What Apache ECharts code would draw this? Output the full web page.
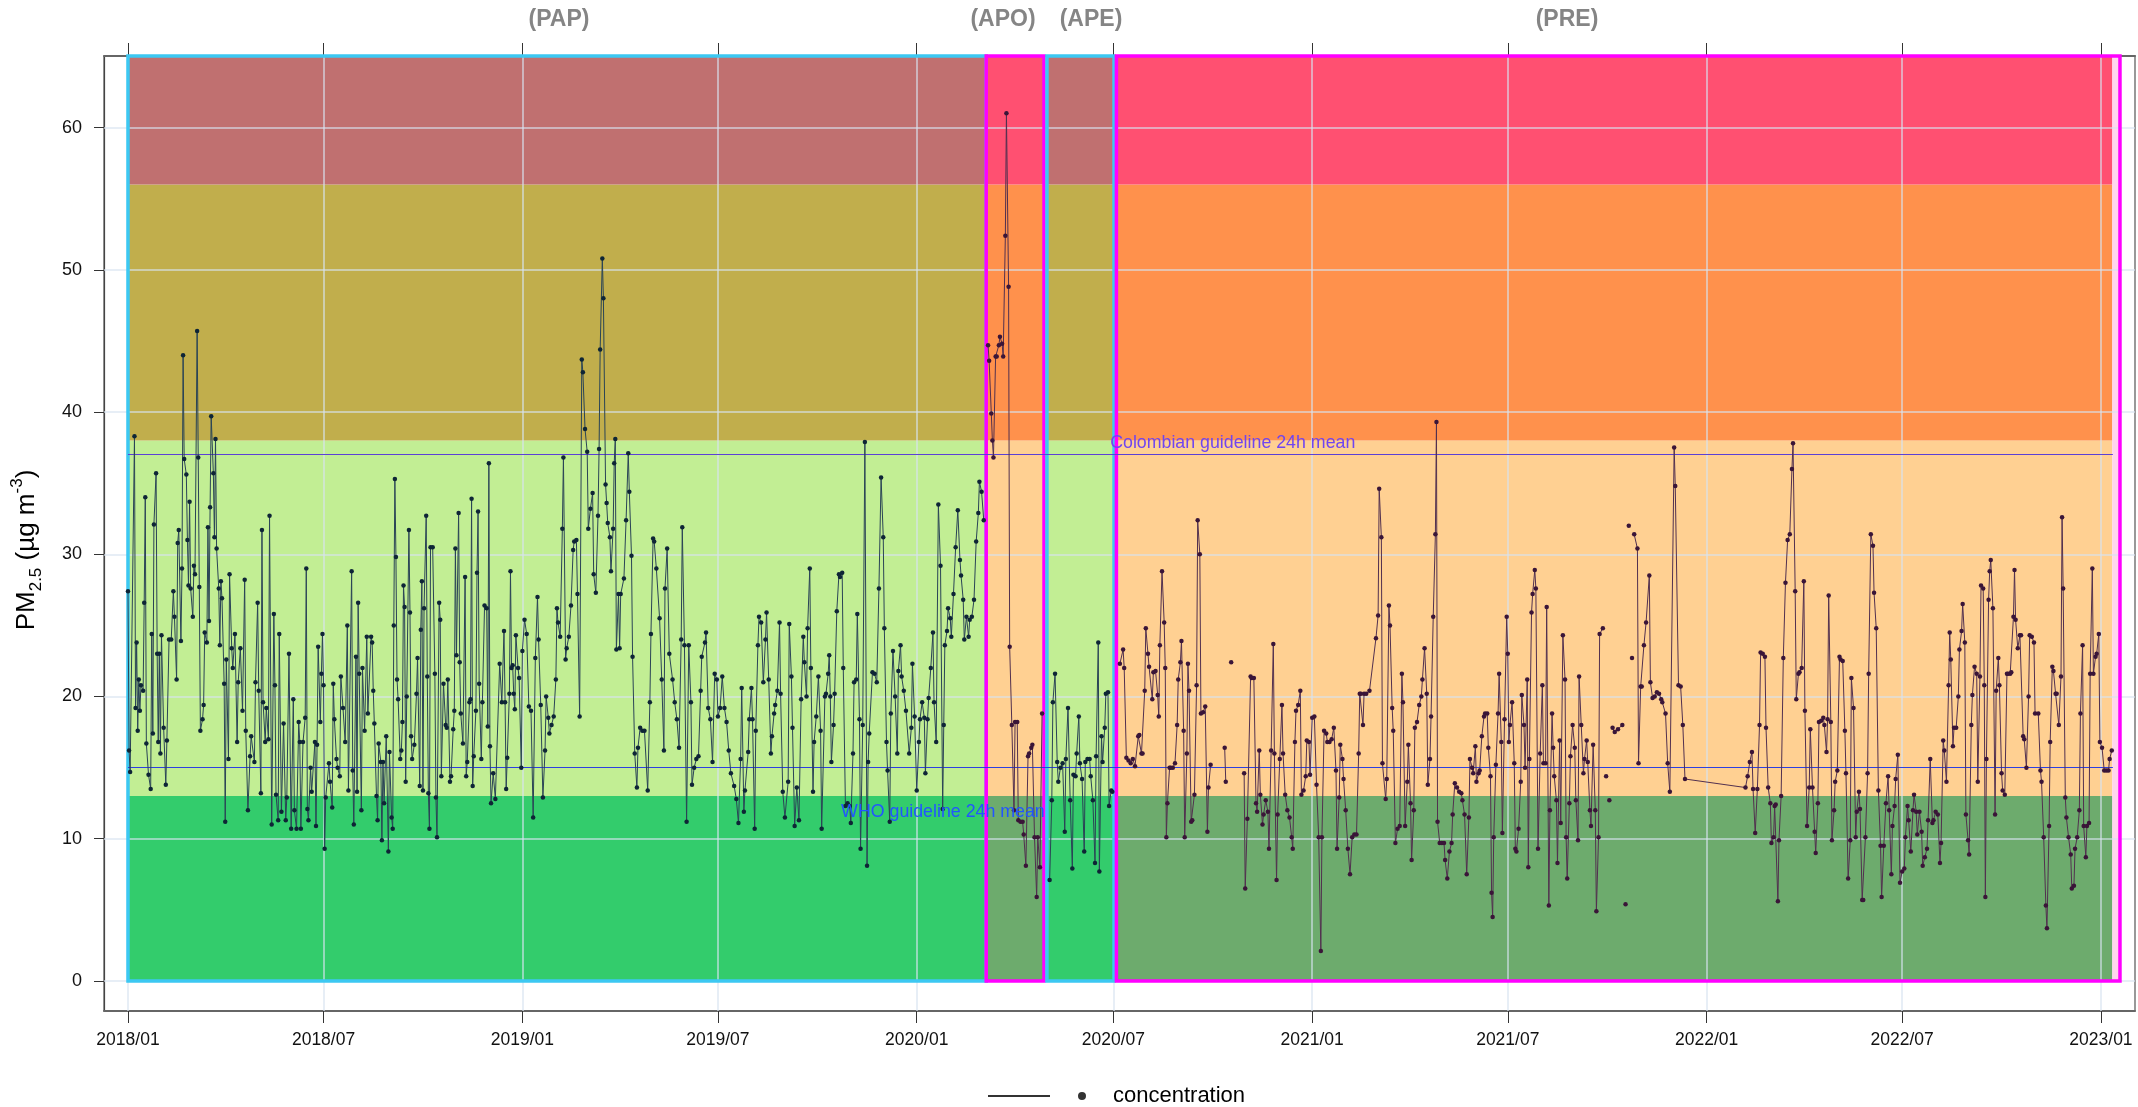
<!DOCTYPE html>
<html><head><meta charset="utf-8">
<script src="https://cdn.jsdelivr.net/npm/echarts@6/dist/echarts.min.js"></script>
<style>html,body{margin:0;padding:0;background:#fff}#c{width:2138px;height:1107px}</style>
</head><body><div id="c"></div>
<script>
// ---- data: [day offset from 2018-01-01, PM2.5 µg/m3]; null = gap ----
const papPoints = [[0,27.4],[1,16.2],[2,14.7],[6,38.3],[7,19.2],[8,23.8],[9,17.6],[10,21.2],[11,19.0],[12,20.8],[14,20.4],[15,26.6],[16,34.0],[17,16.7],[19,14.5],[21,13.5],[22,24.4],[23,17.4],[24,32.1],[26,35.7],[27,23.0],[28,16.8],[29,23.0],[30,16.0],[31,24.3],[33,17.8],[35,13.8],[36,16.9],[38,24.0],[40,24.0],[42,27.4],[43,25.6],[45,21.2],[46,30.8],[47,31.7],[49,23.9],[50,29.0],[51,44.0],[52,36.7],[54,35.6],[55,31.0],[56,27.8],[57,33.7],[58,27.6],[60,25.6],[61,29.2],[62,28.6],[64,45.7],[65,36.8],[66,27.7],[67,17.6],[69,18.4],[70,19.4],[71,24.5],[73,23.8],[74,31.9],[75,25.3],[76,33.3],[77,39.7],[79,35.7],[80,31.2],[81,38.1],[82,30.4],[84,27.6],[85,23.6],[86,28.1],[87,26.9],[89,20.9],[90,11.2],[91,22.6],[93,15.6],[94,28.6],[96,23.4],[97,22.0],[99,24.4],[101,16.8],[102,21.0],[104,23.4],[106,19.0],[108,28.2],[109,17.6],[111,12.0],[113,15.8],[114,17.2],[117,15.4],[118,21.0],[120,26.6],[121,20.4],[123,13.2],[124,31.7],[125,19.6],[127,16.8],[128,19.2],[130,17.0],[131,32.7],[133,11.0],[135,25.8],[136,20.8],[137,13.1],[139,11.3],[140,24.4],[142,11.9],[144,18.1],[146,11.3],[147,12.9],[149,23.0],[151,10.7],[153,19.8],[154,12.0],[156,10.7],[158,18.2],[159,16.8],[160,10.7],[162,16.8],[164,18.5],[165,29.0],[166,12.1],[167,11.3],[169,15.0],[170,13.3],[173,16.8],[174,10.9],[175,16.6],[176,23.5],[178,18.2],[179,21.6],[180,24.4],[181,20.8],[182,9.3],[183,12.9],[186,15.3],[187,14.0],[189,12.2],[190,20.9],[191,18.4],[193,15.6],[194,15.0],[196,14.4],[197,21.4],[199,19.2],[201,16.8],[203,25.0],[204,13.4],[207,28.8],[208,14.8],[209,11.0],[211,22.8],[212,13.3],[213,26.6],[214,21.6],[216,12.0],[217,22.0],[219,17.6],[221,24.2],[222,18.8],
[225,24.2],[226,23.8],[227,20.4],[228,18.1],[230,13.0],[231,11.3],[232,16.7],[234,15.4],[235,9.9],[236,15.4],[237,12.5],[239,17.2],[241,9.1],[242,16.1],[244,11.5],[245,10.7],[246,25.0],[247,35.3],[248,29.8],[249,21.2],[250,19.8],[252,15.6],[253,16.2],[254,18.2],[255,27.8],[256,26.3],[257,14.0],[258,20.0],[260,31.7],[261,25.9],[262,17.2],[263,15.6],[265,16.6],[267,20.2],[268,22.7],[270,13.7],[271,24.7],[272,28.1],[273,13.4],[274,26.2],[276,32.7],[277,21.4],[278,13.2],[279,10.7],[280,30.5],[282,30.5],[284,21.6],[285,12.9],[286,10.1],[288,26.6],[289,25.4],[290,14.4],[292,20.9],[294,18.0],[295,17.8],[296,21.2],[298,14.0],[299,14.4],[301,17.7],[302,19.0],[303,30.4],[304,22.9],[306,32.9],[307,22.4],[308,18.8],[310,16.7],[312,28.4],[313,14.4],[314,15.4],[316,19.6],[317,19.8],[318,33.9],[319,13.7],[320,15.8],[322,19.0],[323,28.7],[324,33.0],[325,20.9],[327,15.6],[328,19.6],[330,26.4],[332,26.2],[333,17.9],[334,36.4],[335,16.5],[336,12.5],[338,14.6],[340,12.8],[344,22.3],[346,19.6],[348,24.6],[349,19.6],[350,13.5],[351,15.7],[353,20.2],[354,28.8],[355,22.0],[356,22.2],[357,20.2],[358,19.1],[359,24.3],[361,22.0],[362,21.3],[364,15.0],[365,23.2],[367,25.4],[369,24.4],[371,19.3],[373,19.0],[375,11.5],[377,22.7],[379,27.0],[380,24.0],[382,19.4],[384,12.9],[386,16.2],[387,20.0],[389,18.5],[390,17.4],[392,18.0],[394,18.6],[396,21.2],[397,26.2],[398,25.2],[400,24.2],[402,31.8],[403,36.8],[405,22.6],[406,23.4],[408,24.2],[410,26.4],[412,30.3],[413,30.9],[415,31.0],[416,27.2],[418,18.6],[420,43.7],[421,42.8],[423,38.8],[425,37.2],[426,31.8],[428,33.2],[430,34.3],[431,28.6],[433,27.3],[435,32.7],[436,37.4],[437,44.4],[439,50.8],[440,48.0],[442,34.9],[443,33.6],[444,32.2],[446,31.2],[447,28.8],[449,31.8],[450,36.4],[451,38.1],[452,23.3],[454,27.2],
[455,23.4],[456,27.2],[459,28.3],[461,32.4],[463,37.1],[464,34.4],[466,29.9],[467,22.8],[469,16.0],[471,13.6],[472,16.4],[474,17.8],[476,17.6],[478,17.6],[481,13.4],[483,19.6],[484,24.4],[486,31.1],[487,30.9],[489,29.0],[492,25.5],[494,21.2],[496,16.2],[497,27.6],[499,30.4],[501,23.0],[504,21.2],[506,19.6],[508,18.4],[510,16.4],[512,24.0],[513,31.9],[515,23.6],[517,11.2],[519,23.6],[521,19.6],[522,13.8],[524,15.0],[526,15.6],[528,15.8],[530,20.4],[531,22.8],[534,23.8],[535,24.5],[537,19.2],[539,18.4],[541,15.4],[543,21.6],[545,21.2],[546,18.6],[548,19.2],[550,21.4],[552,19.2],[554,18.2],[556,16.2],[558,14.6],[561,13.7],[563,12.8],[565,11.1],[567,15.6],[568,20.6],[570,11.9],[571,13.4],[574,16.1],[575,18.4],[577,20.6],[578,18.4],[580,10.7],[581,17.6],[583,23.6],[584,25.6],[586,25.2],[588,21.0],[590,24.0],[591,25.9],[593,21.2],[595,16.0],[596,17.2],[598,18.8],[599,19.4],[601,20.4],[603,25.2],[604,20.2],[606,13.3],[608,11.5],[611,14.0],[612,25.1],[614,21.4],[615,17.8],[617,10.9],[619,13.6],[621,11.3],[623,19.8],[625,24.2],[626,22.4],[628,20.0],[629,24.8],[631,29.0],[632,22.0],[634,13.3],[635,16.8],[637,18.6],[639,21.4],[641,17.6],[642,10.7],[645,20.0],[646,20.2],[648,21.6],[649,22.9],[650,20.0],[651,15.4],[653,18.0],[654,20.2],[656,26.0],[658,28.6],[659,28.4],[661,28.7],[662,22.0],[664,12.3],[666,12.5],[668,12.3],[669,11.1],[671,16.0],[672,21.0],[674,21.2],[675,25.8],[677,18.4],[678,9.3],[680,18.0],[682,37.9],[684,8.1],[685,15.4],
[686,17.4],[689,21.7],[691,21.6],[693,21.0],[695,27.6],[697,35.4],[699,31.2],[700,24.8],[702,16.8],[703,14.8],[705,11.2],[706,18.8],[708,23.2],[710,20.0],[712,16.0],[713,21.8],[715,23.6],[716,21.4],[718,20.4],[720,19.0],[723,16.0],[725,17.8],[726,22.3],[728,18.6],[730,13.4],[732,16.8],[733,18.4],[735,19.6],[737,18.5],[738,14.6],[740,18.4],[741,19.9],[743,22.0],[745,24.5],[746,19.6],[748,16.8],[750,33.5],[752,29.2],[754,12.1],[755,18.0],[756,23.6],[758,24.6],[759,26.2],[761,25.5],[762,24.2],[764,27.2],[766,30.5],[768,33.1],[770,29.6],[771,28.5],[773,26.8],[774,24.0],[776,25.6],[778,24.2],[779,25.4],[781,25.6],[783,26.8],[785,30.9],[787,32.9],[788,35.1],[790,34.4],[792,32.4]];

const apoPoints = [[796,44.7],[797,43.6],[799,39.9],[800,38.0],[801,36.8],[803,43.9],[804,43.9],[806,44.7],[807,45.3],[809,44.8],[810,43.9],[812,52.4],[813,61.0],[815,48.8],[816,23.5],[818,18.0],[820,12.0],[821,18.2],[823,18.2],[824,11.3],[826,11.2],[828,11.2],[829,10.3],[831,8.1],[833,15.8],[834,16.0],[836,16.4],[837,16.6],[839,10.1],[841,5.9],[842,10.1],[844,8.0],[846,18.8]];

const apePoints = [[853,7.1],[855,12.7],[856,19.6],[858,21.6],[860,15.4],[861,14.0],[863,15.0],[865,15.3],[867,10.5],[868,15.6],[870,19.2],[872,12.7],[874,7.9],[875,14.5],[877,14.4],[878,16.0],[880,18.6],[881,15.3],[883,14.2],[885,9.1],[886,15.4],[888,15.6],[890,15.6],[891,14.4],[893,12.7],[895,8.3],[896,15.8],[898,23.8],[899,7.7],[901,17.2],[902,15.4],[904,17.8],[905,20.2],[907,20.3],[908,12.3],[910,13.4],[911,13.3]];

const prePoints = [[918,22.3],[921,23.3],[922,22.0],[924,15.7],[926,15.5],[928,15.3],[930,15.6],[932,15.1],[935,17.2],[936,17.3],[938,16.0],[939,16.0],[941,20.4],[942,24.8],[944,23.0],[945,22.1],[948,19.8],[949,21.7],[951,21.8],[953,20.1],[954,18.6],[955,23.6],[957,28.8],[959,25.2],[960,22.0],[961,10.1],[962,12.5],[964,15.0],[965,15.0],[967,15.0],[969,15.3],[971,18.0],[972,21.2],[974,22.4],[975,23.9],[977,17.6],[978,10.1],[980,16.0],[981,22.3],[982,20.4],[984,11.2],[985,11.3],[987,13.1],[989,20.8],[990,32.4],[992,30.0],[993,18.8],[995,18.9],[997,19.3],[999,10.5],[1000,13.6],[1002,15.2],[1008,null],[1015,16.4],[1016,14.0],[1018,null],[1021,22.4],[1027,null],[1033,14.6],[1034,6.5],[1036,11.4],[1039,21.4],[1040,21.3],[1042,21.3],[1044,12.5],[1045,11.9],[1047,16.2],[1048,13.1],[1050,11.0],[1051,11.7],[1053,12.7],[1055,11.9],[1056,9.3],[1058,16.2],[1060,23.7],[1061,16.0],[1063,7.1],[1064,11.7],[1066,15.6],[1068,19.4],[1069,16.0],[1071,13.1],[1073,12.0],[1075,11.5],[1077,10.1],[1078,9.3],[1080,16.8],[1081,19.0],[1083,19.4],[1085,20.4],[1086,13.1],[1088,13.4],[1090,14.4],[1091,16.9],[1093,16.8],[1094,14.5],[1096,18.5],[1098,18.6],[1100,13.8],[1102,10.1],[1104,2.1],[1105,10.1],[1107,17.6],[1109,17.4],[1110,16.8],[1112,16.8],[1114,17.0],[1116,17.8],[1118,14.8],[1119,9.3],[1121,12.9],[1122,16.6],[1124,15.6],[1125,14.2],[1127,12.0],[1129,9.3],[1131,7.5],[1133,10.1],[1135,10.3],[1137,10.3],[1139,16.0],[1140,20.2],[1141,20.2],[1143,18.0],[1144,20.2],[1146,20.2],
[1149,20.4],[1155,24.1],[1157,25.7],[1158,34.6],[1160,31.2],[1161,15.3],[1164,12.8],[1165,14.2],[1167,26.4],[1168,25.0],[1170,19.2],[1171,17.6],[1173,9.7],[1175,10.7],[1177,10.9],[1179,21.6],[1180,19.6],[1182,10.9],[1184,14.0],[1185,16.6],[1187,12.5],[1188,8.5],[1190,12.0],[1191,17.8],[1193,18.2],[1195,19.4],[1197,20.0],[1198,21.2],[1200,23.4],[1202,20.2],[1203,13.8],[1205,15.6],[1206,18.6],[1208,25.6],[1210,31.4],[1211,39.3],[1212,11.2],[1214,9.7],[1216,9.7],[1218,9.7],[1219,8.5],[1221,7.2],[1223,9.1],[1225,9.7],[1226,11.7],[1228,13.9],[1230,13.6],[1232,13.3],[1234,13.2],[1235,12.7],[1237,11.7],[1239,7.5],[1241,11.5],[1242,15.6],[1244,15.0],[1245,14.6],[1247,16.5],[1248,14.0],[1250,14.6],[1251,14.8],[1253,17.2],[1255,18.6],[1256,18.8],[1258,18.8],[1259,16.4],[1261,14.4],[1262,6.2],[1263,4.5],[1264,10.1],[1266,15.2],[1268,18.8],[1269,21.6],[1271,16.8],[1272,10.4],[1274,18.4],[1276,25.6],[1277,23.0],[1278,16.8],[1279,18.0],[1281,19.6],[1283,15.3],[1284,9.3],[1285,9.1],[1287,10.7],[1289,14.0],[1290,20.1],[1292,18.0],[1293,15.0],[1295,21.2],[1296,8.0],[1297,15.6],[1299,25.9],[1300,27.2],[1302,28.9],[1303,27.6],[1305,9.3],[1307,16.0],[1309,20.8],[1310,15.3],[1312,15.3],[1313,26.3],[1315,5.3],[1316,12.0],[1318,18.8],[1319,16.4],[1320,14.4],[1322,12.7],[1323,8.3],[1325,16.9],[1326,11.1],[1328,24.3],[1330,21.2],[1331,10.1],[1332,7.2],[1334,12.5],[1335,15.8],[1337,18.0],[1339,16.4],[1340,12.7],[1342,9.9],[1343,21.4],[1345,18.0],[1347,14.6],[1348,15.6],[1350,16.9],[1351,15.4],[1353,12.0],[1354,10.9],[1356,16.6],[1358,12.0],[1359,4.9],[1361,10.1],[1362,24.4],[1365,24.8],[1366,null],[1368,14.4],[1369,null],[1371,12.7],[1372,null],[1374,17.8],[1376,17.5],[1379,17.7],
[1383,18.0],[1384,null],[1386,5.4],[1387,null],[1389,32.0],[1390,null],[1392,22.7],[1393,null],[1394,31.4],[1397,30.4],[1398,15.3],[1400,20.7],[1401,20.7],[1403,23.6],[1405,25.2],[1408,28.5],[1409,21.0],[1411,19.9],[1413,20.0],[1415,20.3],[1417,20.2],[1419,19.8],[1420,19.6],[1423,18.8],[1425,15.3],[1427,13.3],[1431,37.5],[1432,34.8],[1435,20.8],[1437,20.7],[1439,18.0],[1441,14.2],[1497,13.6],[1499,14.4],[1501,15.4],[1503,16.1],[1504,13.5],[1506,10.4],[1508,13.5],[1510,18.0],[1511,23.1],[1513,23.0],[1515,22.8],[1516,17.8],[1518,13.6],[1520,12.5],[1521,9.7],[1523,10.1],[1524,12.3],[1525,12.4],[1527,5.6],[1528,9.9],[1530,13.0],[1532,22.7],[1534,28.0],[1536,31.0],[1538,31.4],[1540,36.0],[1541,37.8],[1543,27.4],[1544,19.8],[1546,21.6],[1547,21.7],[1549,22.0],[1551,28.1],[1552,19.0],[1554,10.9],[1556,13.6],[1557,17.7],[1559,13.6],[1561,10.5],[1562,9.0],[1564,12.5],[1565,18.2],[1567,18.3],[1569,18.5],[1570,18.0],[1572,16.1],[1573,18.4],[1574,27.1],[1576,18.2],[1577,9.9],[1579,12.0],[1580,14.0],[1582,14.8],[1584,22.8],[1585,22.6],[1587,22.5],[1589,17.6],[1590,14.6],[1592,7.2],[1594,9.9],[1595,21.3],[1597,19.2],[1599,10.1],[1600,11.9],[1602,13.3],[1603,12.1],[1605,5.7],[1606,5.7],[1608,10.1],[1610,14.6],[1611,21.6],
[1613,31.4],[1615,30.6],[1616,27.3],[1618,24.8],[1620,13.4],[1622,9.5],[1623,5.9],[1625,9.5],[1627,12.5],[1629,14.4],[1630,12.0],[1632,7.5],[1633,10.9],[1635,12.3],[1636,14.2],[1638,15.9],[1640,6.9],[1642,7.7],[1644,7.9],[1645,10.1],[1647,12.3],[1648,11.3],[1650,9.1],[1652,12.0],[1653,13.1],[1655,11.9],[1656,10.3],[1658,11.9],[1660,10.5],[1661,8.1],[1663,8.7],[1665,9.3],[1666,11.3],[1668,15.6],[1670,11.1],[1671,11.3],[1673,11.9],[1675,11.7],[1677,8.3],[1678,9.7],[1680,16.9],[1681,16.2],[1683,14.0],[1685,20.8],[1686,24.5],[1687,22.6],[1689,16.5],[1690,17.8],[1692,17.8],[1694,20.0],[1695,23.3],[1697,24.6],[1698,26.5],[1700,23.8],[1701,11.7],[1703,9.9],[1704,8.9],[1706,18.0],[1707,20.1],[1709,22.1],[1711,21.6],[1712,14.0],[1714,21.4],[1715,27.8],[1717,27.6],[1718,20.8],[1719,5.9],[1720,15.6],[1722,26.8],[1723,28.8],[1724,29.6],[1726,26.2],[1728,11.7],[1729,20.4],[1731,22.7],[1732,20.8],[1734,14.6],[1735,13.4],[1737,13.1],[1739,21.6],[1740,21.6],[1742,21.6],[1743,21.7],[1745,25.6],[1746,28.9],[1747,25.4],[1749,23.4],[1751,24.3],[1752,24.3],[1754,17.2],[1755,17.0],[1757,15.0],[1759,20.0],[1760,24.3],[1762,24.2],[1764,23.8],[1765,18.8],[1768,18.8],[1770,14.8],[1771,14.0],[1773,10.1],[1775,5.3],[1776,3.7],[1778,10.9],[1779,16.8],[1781,22.1],[1782,21.8],[1784,20.2],[1785,20.2],[1787,18.0],[1789,21.4],[1790,32.6],[1791,27.6],[1793,12.9],[1794,11.5],[1796,10.1],[1798,8.9],[1799,6.5],[1801,6.7],[1802,9.3],[1804,10.1],[1806,12.0],[1807,18.8],[1809,23.6],[1810,10.9],[1812,8.7],[1813,10.9],[1815,11.1],[1816,21.6],[1818,29.0],[1819,21.6],[1821,22.8],[1822,23.0],[1824,24.4],[1825,16.8],[1827,16.4],[1829,14.8],[1831,14.8],[1833,14.8],[1834,15.6],[1836,16.2]];

const xTickLabels = ['2018/01','2018/07','2019/01','2019/07','2020/01','2020/07','2021/01','2021/07','2022/01','2022/07','2023/01'];
const yTickValues = [0,10,20,30,40,50,60];
const bandLimits = [0,13,38,56,65];
const colombianGuideline = 37;
const whoGuideline = 15;
// period windows (day offsets from 2018-01-01)
const periodNames = ['(PAP)','(APO)','(APE)','(PRE)'];
const periodStart = [0,794.3,850.5,914.8];
const periodEnd   = [794.3,847.8,912.6,1843.6];
const periodFillEnd = [794.3,847.8,912.6,1836.5];

// ---- helpers ----
const BASE = Date.UTC(2018,0,1), DAY = 86400000;
const tickDays = xTickLabels.map(s => { const [y,m] = s.split('/').map(Number); return (Date.UTC(y,m-1,1) - BASE)/DAY; });
const FONT = '"Liberation Sans", Arial, sans-serif';

const colorsA = ['#33CC6C','#C2EE94','#C1AE4C','#C07070'];
const colorsB = ['#6DAB6D','#FFD092','#FF914C','#FF5071'];
const periodColors = [colorsA, colorsB, colorsA, colorsB];
const periodBorder = ['#3CC8F2','#FF00FF','#3CC8F2','#FF00FF'];

const bandAreas = [];
periodStart.forEach((s,p) => {
  for (let i=0;i<4;i++) {
    bandAreas.push([{xAxis:s, yAxis:bandLimits[i], itemStyle:{color:periodColors[p][i]}},
                    {xAxis:periodFillEnd[p], yAxis:bandLimits[i+1]}]);
  }
});
bandAreas.push([{xAxis:periodFillEnd[3], yAxis:0, itemStyle:{color:'#FFD6EE'}},{xAxis:periodEnd[3], yAxis:65}]);
const boxAreas = periodStart.map((s,p) => [
  {xAxis:s, yAxis:0, itemStyle:{color:'rgba(0,0,0,0)', borderColor:periodBorder[p], borderWidth:3.5}},
  {xAxis:periodEnd[p], yAxis:65.15}]);

const gridColor = 'rgba(215,228,240,0.8)';
const toSeriesData = pts => pts.map(([d,v]) => [d, v===null ? '-' : v]);

const xMin = -22.2, xMax = 1857.5, yMin = -2.11, yMax = 65.03;

const dataSeries = [
  [papPoints,'#2A4456','#0E2536'],
  [apoPoints,'#52304F','#3A1538'],
  [apePoints,'#2A4456','#0E2536'],
  [prePoints,'#52304F','#3A1538']
].map(([pts,lc,pc]) => ({
  type:'line', name:'concentration', data: toSeriesData(pts),
  symbol:'circle', symbolSize:4.5, showSymbol:true, showAllSymbol:true,
  lineStyle:{color:lc, width:1}, itemStyle:{color:pc},
  connectNulls:false, z:6, silent:true, animation:false
}));

const option = {
  animation:false,
  grid:{left:104, right:3, top:56, bottom:96, show:true, borderColor:'#555', borderWidth:1.2, backgroundColor:'rgba(0,0,0,0)'},
  xAxis:[
    {type:'value', min:xMin, max:xMax, position:'bottom',
     axisLine:{show:true, onZero:false, lineStyle:{color:'#666', width:2}},
     axisTick:{show:true, customValues:tickDays, length:12, lineStyle:{color:'#333', width:1}},
     axisLabel:{show:true, customValues:tickDays, formatter:v => xTickLabels[tickDays.indexOf(v)] || '',
       fontSize:17.5, color:'#111', margin:20, fontFamily:FONT, hideOverlap:false},
     splitLine:{show:false}},
    {type:'value', min:xMin, max:xMax, position:'top',
     axisLine:{show:true, onZero:false, lineStyle:{color:'#666', width:2}},
     axisTick:{show:true, customValues:tickDays, length:13, lineStyle:{color:'#333', width:1}},
     axisLabel:{show:false}, splitLine:{show:false}}
  ],
  yAxis:[
    {type:'value', min:yMin, max:yMax, position:'left',
     axisLine:{show:true, onZero:false, lineStyle:{color:'#444', width:1.2}},
     axisTick:{show:true, customValues:yTickValues, length:10, lineStyle:{color:'#333'}},
     axisLabel:{show:true, customValues:yTickValues, fontSize:18, color:'#111', margin:22, fontFamily:FONT},
     splitLine:{show:false}}
  ],
  legend:{left:988, top:1084, padding:0, itemWidth:120, itemHeight:24, selectedMode:false,
    data:[{name:'concentration',
      icon:'path://M0 0h0.01v0.01h-0.01Z M119.99 23.99h0.01v0.01h-0.01Z M0 11H62V13H0Z M90 12A4 4 0 1 0 98 12A4 4 0 1 0 90 12Z',
      itemStyle:{color:'#333'}}],
    textStyle:{fontSize:22, color:'#000', fontFamily:FONT}},
  graphic:[
    {type:'text', x:27, y:550, rotation:Math.PI/2,
     style:{text:'{a|PM}{b|2.5}{a| (µg m}{c|-3}{a|)}', align:'center', verticalAlign:'middle', fill:'#000',
       rich:{a:{fontSize:26, lineHeight:36, fontFamily:FONT, fill:'#000'},
             b:{fontSize:17, lineHeight:17, verticalAlign:'bottom', fontFamily:FONT, fill:'#000'},
             c:{fontSize:17, lineHeight:17, verticalAlign:'top', fontFamily:FONT, fill:'#000'}}}},
    ...periodNames.map((n,i) => ({type:'text', x:[559,1003,1091,1567][i], y:20,
      style:{text:n, align:'center', verticalAlign:'middle', fill:'#858585', fontSize:23, fontWeight:'bold', fontFamily:FONT}}))
  ],
  series:[
    {type:'line', data:[], silent:true,
     markArea:{silent:true, z:1, data:bandAreas}},
    {type:'line', data:[], silent:true,
     markLine:{silent:true, z:2, symbol:['none','none'], label:{show:false},
       lineStyle:{color:gridColor, width:1.5, type:'solid'},
       data:[...yTickValues.map(v => ({yAxis:v})), ...tickDays.map(tt => ({xAxis:tt}))]}},
    {type:'line', data:[], silent:true,
     markArea:{silent:true, z:3, data:boxAreas}},
    {type:'line', data:[], silent:true,
     markLine:{silent:true, z:4, symbol:['none','none'], label:{show:false},
       data:[
         [{coord:[0,colombianGuideline], lineStyle:{color:'#5B3FD6', width:1.2, type:'solid'}},{coord:[1837,colombianGuideline]}],
         [{coord:[0,whoGuideline], lineStyle:{color:'#2C3FE0', width:1.2, type:'solid'}},{coord:[1837,whoGuideline]}]
       ]},
     markPoint:{silent:true, z:7, symbol:'circle', symbolSize:0,
       label:{show:true, position:'right', distance:0, fontSize:17.8, fontFamily:FONT},
       data:[
         {coord:[909,37.8], label:{formatter:'Colombian guideline 24h mean', color:'#7045F0'}},
         {coord:[660,11.9], label:{formatter:'WHO guideline 24h mean', color:'#2255FF'}}
       ]}},
    ...dataSeries
  ]
};
const chart = echarts.init(document.getElementById('c'), null, {renderer:'canvas'});
chart.setOption(option);
</script>
</body></html>
